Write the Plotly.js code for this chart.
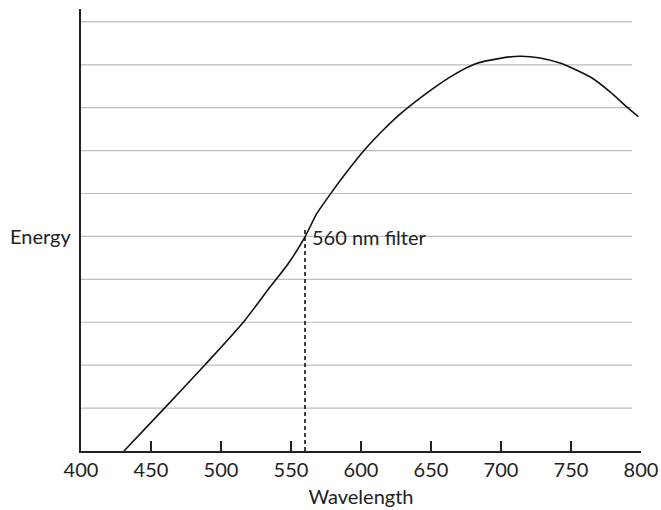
<!DOCTYPE html>
<html>
<head>
<meta charset="utf-8">
<script src="https://cdn.plot.ly/plotly-3.0.1.min.js"></script>
<style>html,body{margin:0;padding:0;background:#fff;}#chart{width:661px;height:510px;}</style>
</head>
<body>
<div id="chart"></div>
<script>
// Data
const wavelength = [430.7, 460.0, 488.6, 516.4, 535.0, 548.1, 560.0, 568.4, 578.6, 589.8, 602.9, 615.9, 627.9, 651.6, 665.9, 681.4, 699.3, 713.6, 727.9, 742.1, 763.6, 777.9, 789.8, 798.1];
const energy     = [0,     1.01,  2.01,  3.02,  3.82,  4.37,  4.99,  5.53,  6.01,  6.50,  7.03,  7.48,  7.85,  8.45,  8.76,  9.02,  9.15,  9.20,  9.16,  9.04,  8.72,  8.37,  8.02,  7.79];
const gridValues = [1, 2, 3, 4, 5, 6, 7, 8, 9, 10];
const xTicks = [400, 450, 500, 550, 600, 650, 700, 750, 800];
const filterWavelength = [560];
const filterTop = [5.2];
const filterLabel = ["560 nm filter"];

const FONT = "Lato, 'Open Sans', sans-serif";
const gridEnd = 793.6;

const shapes = gridValues.map(v => ({
  type: 'line', xref: 'x', yref: 'y', x0: 400, x1: gridEnd, y0: v, y1: v,
  line: {color: '#bdbdbd', width: 1.2}, layer: 'below'
}));

const traces = [
  {
    x: wavelength, y: energy, type: 'scatter', mode: 'lines',
    line: {color: '#111', width: 1.6, shape: 'spline', smoothing: 0.7},
    hoverinfo: 'skip', showlegend: false, cliponaxis: false
  },
  {
    x: [filterWavelength[0], filterWavelength[0]], y: [0, filterTop[0]],
    type: 'scatter', mode: 'lines',
    line: {color: '#111', width: 1.6, dash: '4px,3px'},
    hoverinfo: 'skip', showlegend: false
  }
];

const layout = {
  width: 661, height: 510,
  margin: {l: 81, r: 20, t: 9, b: 59},
  paper_bgcolor: '#fff', plot_bgcolor: '#fff',
  font: {family: FONT, color: '#222', size: 20},
  showlegend: false,
  xaxis: {
    range: [400, 800], tickvals: xTicks, ticktext: xTicks.map(String),
    ticks: 'inside', ticklen: 10, tickwidth: 1.5, tickcolor: '#222',
    showline: true, linecolor: '#222', linewidth: 2,
    showgrid: false, zeroline: false,
    tickfont: {family: FONT, size: 20, color: '#222'},
    title: {text: 'Wavelength', font: {family: FONT, size: 20, color: '#222'}, standoff: 10}
  },
  yaxis: {
    range: [0, 10.3], showticklabels: false, ticks: '',
    showline: true, linecolor: '#222', linewidth: 2,
    showgrid: false, zeroline: false
  },
  shapes: shapes,
  annotations: [
    {
      text: 'Energy', xref: 'paper', yref: 'y', x: 0, y: 5,
      xanchor: 'right', yanchor: 'middle', xshift: -8, showarrow: false,
      font: {family: FONT, size: 20, color: '#222'}
    },
    {
      text: filterLabel[0], xref: 'x', yref: 'y', x: filterWavelength[0], y: 4.98,
      xanchor: 'left', yanchor: 'middle', xshift: 5, showarrow: false,
      font: {family: FONT, size: 20, color: '#222'}
    }
  ]
};

Plotly.newPlot('chart', traces, layout, {staticPlot: true, displayModeBar: false});
</script>
</body>
</html>
